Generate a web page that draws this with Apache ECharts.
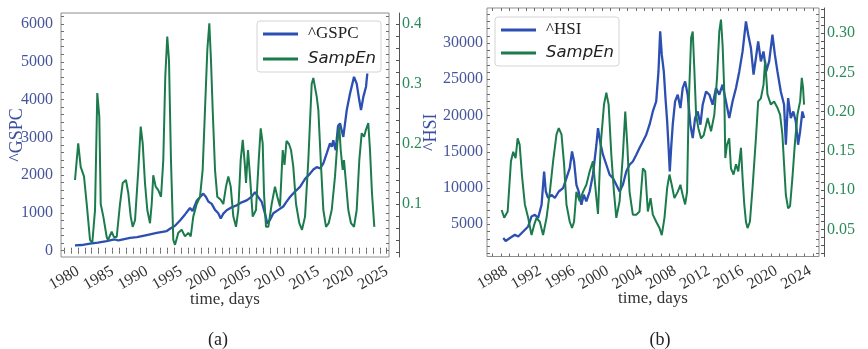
<!DOCTYPE html>
<html>
<head>
<meta charset="utf-8">
<script src="https://cdn.jsdelivr.net/npm/echarts@6/dist/echarts.min.js"></script>
<style>
  html, body { margin: 0; padding: 0; background: #fff; }
  #wrap { position: relative; width: 868px; height: 349px; overflow: hidden; background: #fff; }
  #chartA { position: absolute; left: 0; top: 0; width: 421px; height: 349px; }
  #chartB { position: absolute; left: 420px; top: 0; width: 448px; height: 349px; }
</style>
</head>
<body>
<div id="wrap"><div id="chartA"></div><div id="chartB"></div></div>
<script>
// ---- Panel (a): S&P 500 index and its sample entropy ----
const gspcYears = [1981.56,1982.5,1983.75,1984.9,1986.18,1987.3,1987.9,1988.12,1989.58,1990.6,1992.01,1993.47,1994.93,1995.41,1996.14,1996.87,1997.6,1998.32,1998.7,1999.3,1999.8,2000.26,2000.66,2000.99,2001.49,2001.97,2002.45,2002.8,2003.18,2003.67,2004.4,2005.13,2005.86,2006.59,2007.32,2007.8,2008.28,2008.78,2009.26,2009.59,2009.99,2010.47,2011.2,2011.92,2012.4,2012.9,2013.6,2014.36,2015.1,2015.82,2016.3,2016.79,2017.3,2017.76,2018.3,2018.73,2019.0,2019.21,2019.56,2019.9,2020.19,2020.67,2021.17,2021.65,2022.23,2022.62,2023.0,2023.25,2023.59,2023.98,2024.17];
const gspcValues = [140,150,185,215,255,300,270,290,340,360,415,470,520,580,660,800,960,1130,1050,1320,1420,1510,1420,1300,1240,1080,990,850,980,1070,1150,1200,1280,1330,1430,1550,1420,1290,980,720,820,990,1080,1170,1300,1420,1560,1690,1900,2040,2150,2210,2180,2310,2600,2840,2750,2920,2660,3300,3370,3010,3720,4160,4600,4420,3980,3720,4070,4340,4690];

const gspcEnYears = [1981.56,1982.03,1982.39,1982.87,1983.27,1983.75,1984.08,1984.48,1984.81,1985.10,1985.31,1985.69,1986.18,1986.37,1986.91,1987.24,1987.64,1988.12,1988.51,1988.99,1989.33,1989.68,1989.97,1990.31,1990.79,1991.14,1991.43,1991.76,1992.10,1992.49,1992.74,1992.97,1993.32,1993.70,1994.10,1994.43,1994.72,1995.01,1995.26,1995.55,1995.89,1996.14,1996.62,1997.11,1997.59,1998.08,1998.43,1998.80,1999.30,1999.78,2000.17,2000.51,2000.85,2001.14,2001.38,2001.63,2001.97,2002.30,2002.80,2003.18,2003.57,2003.91,2004.26,2004.64,2005.03,2005.36,2005.71,2006.01,2006.30,2006.49,2006.78,2007.07,2007.46,2007.94,2008.34,2008.63,2008.92,2009.11,2009.40,2009.74,2010.23,2010.71,2011.05,2011.44,2011.84,2012.10,2012.39,2012.75,2013.05,2013.38,2013.78,2014.26,2014.65,2015.09,2015.57,2016.06,2016.30,2016.79,2017.03,2017.38,2017.76,2018.15,2018.54,2018.98,2019.46,2019.80,2020.09,2020.29,2020.58,2020.77,2021.06,2021.40,2021.79,2022.23,2022.62,2023.00,2023.35,2023.69,2023.98,2024.31,2024.56,2024.85,2025.19];
const gspcEnValues = [0.14,0.201,0.162,0.146,0.10,0.04,0.035,0.09,0.285,0.246,0.10,0.079,0.045,0.04,0.054,0.045,0.045,0.10,0.135,0.14,0.118,0.079,0.062,0.073,0.157,0.229,0.201,0.135,0.09,0.068,0.10,0.148,0.129,0.123,0.112,0.173,0.312,0.379,0.34,0.173,0.04,0.032,0.052,0.057,0.046,0.052,0.046,0.079,0.10,0.112,0.157,0.257,0.357,0.401,0.34,0.257,0.157,0.112,0.107,0.10,0.129,0.146,0.129,0.079,0.062,0.09,0.173,0.207,0.168,0.135,0.19,0.146,0.079,0.09,0.173,0.226,0.201,0.118,0.062,0.062,0.10,0.129,0.112,0.096,0.19,0.165,0.205,0.20,0.19,0.162,0.10,0.068,0.057,0.079,0.173,0.30,0.31,0.279,0.257,0.173,0.09,0.062,0.068,0.09,0.146,0.201,0.229,0.19,0.157,0.173,0.135,0.09,0.068,0.062,0.09,0.173,0.218,0.212,0.224,0.235,0.19,0.118,0.062];

const gspcYearTicks = [1980,1985,1990,1995,2000,2005,2010,2015,2020,2025];
const gspcLevelTicks = [0,1000,2000,3000,4000,5000,6000];
const gspcEnTicks = [0.1,0.2,0.3,0.4];

// ---- Panel (b): Hang Seng index and its sample entropy ----
const hsiYears = [1989.28,1989.56,1990.07,1990.66,1991.05,1991.64,1992.23,1992.63,1993.02,1993.41,1993.82,1994.12,1994.32,1994.6,1995.0,1995.39,1995.86,1996.37,1996.77,1997.16,1997.43,1997.67,1997.95,1998.22,1998.54,1998.82,1999.13,1999.52,1999.91,2000.32,2000.51,2000.83,2001.1,2001.5,2001.89,2002.28,2002.68,2003.07,2003.46,2003.86,2004.25,2004.64,2005.05,2005.43,2005.83,2006.23,2006.62,2007.01,2007.41,2007.68,2007.88,2008.07,2008.31,2008.51,2008.71,2008.86,2009.02,2009.18,2009.37,2009.65,2009.96,2010.28,2010.55,2010.84,2011.14,2011.46,2011.74,2012.02,2012.33,2012.65,2012.92,2013.32,2013.71,2014.1,2014.5,2014.89,2015.28,2015.68,2016.07,2016.46,2016.87,2017.26,2017.65,2018.05,2018.32,2018.64,2018.95,2019.23,2019.5,2019.82,2020.13,2020.45,2020.8,2021.19,2021.48,2021.78,2022.18,2022.57,2022.78,2023.05,2023.37,2023.67,2023.96,2024.23,2024.47,2024.74,2024.94];
const hsiValues = [3100,2700,3100,3550,3320,4000,4700,6080,6310,5860,7690,12280,9520,8620,9070,8620,9520,9990,11370,12750,15040,13660,10450,9520,7690,9070,8150,9520,11830,15970,18270,15970,14590,13210,11830,11370,10450,9520,10450,12280,13210,13660,14590,15510,16420,17350,18730,20560,21940,26080,31600,28390,26080,22410,19180,15970,12280,15510,18730,21940,22870,21030,23790,24700,22870,18730,16890,19650,20560,18730,21490,23320,22870,21490,23790,22870,24250,21940,19650,21940,23790,26080,28840,32980,31140,29310,25630,27930,30220,27460,28840,26080,27460,31140,28390,26080,23320,21490,15970,22410,19650,20560,19180,15970,17800,20560,19650];

const hsiEnYears = [1989.09,1989.39,1989.8,1990.19,1990.46,1990.74,1990.98,1991.22,1991.52,1991.84,1992.23,1992.63,1992.94,1993.22,1993.61,1994.0,1994.41,1994.8,1995.19,1995.59,1995.86,1996.18,1996.49,1996.77,1997.16,1997.43,1997.67,1997.95,1998.34,1998.73,1999.13,1999.52,1999.91,2000.32,2000.51,2000.83,2001.22,2001.5,2001.77,2002.09,2002.4,2002.68,2003.07,2003.46,2003.74,2003.98,2004.25,2004.64,2005.05,2005.43,2005.83,2006.11,2006.42,2006.74,2007.01,2007.41,2007.8,2008.07,2008.39,2008.71,2008.98,2009.25,2009.57,2009.96,2010.28,2010.55,2010.84,2011.07,2011.26,2011.55,2011.74,2011.94,2012.14,2012.41,2012.73,2013.04,2013.32,2013.51,2013.91,2014.3,2014.62,2014.89,2015.09,2015.28,2015.48,2015.6,2015.8,2016.07,2016.27,2016.58,2016.87,2017.14,2017.46,2017.65,2017.85,2018.05,2018.24,2018.52,2018.83,2019.23,2019.5,2019.82,2020.13,2020.33,2020.6,2021.0,2021.39,2021.78,2022.1,2022.37,2022.57,2022.78,2023.05,2023.28,2023.56,2023.84,2024.15,2024.47,2024.67,2024.82,2024.94];
const hsiEnValues = [0.075,0.065,0.073,0.137,0.149,0.141,0.166,0.158,0.116,0.082,0.065,0.043,0.056,0.065,0.06,0.043,0.065,0.098,0.137,0.171,0.179,0.171,0.133,0.082,0.06,0.052,0.06,0.098,0.086,0.098,0.107,0.124,0.137,0.09,0.07,0.158,0.209,0.224,0.209,0.145,0.098,0.065,0.086,0.145,0.2,0.158,0.098,0.069,0.069,0.073,0.128,0.124,0.073,0.09,0.069,0.06,0.052,0.043,0.065,0.103,0.12,0.107,0.09,0.098,0.107,0.094,0.082,0.098,0.209,0.294,0.302,0.251,0.196,0.179,0.166,0.17,0.183,0.192,0.175,0.196,0.243,0.302,0.317,0.285,0.226,0.141,0.158,0.166,0.128,0.12,0.133,0.124,0.154,0.116,0.082,0.06,0.052,0.06,0.103,0.166,0.213,0.217,0.234,0.265,0.222,0.209,0.213,0.205,0.196,0.171,0.133,0.094,0.077,0.08,0.116,0.158,0.196,0.213,0.243,0.23,0.209];

const hsiYearTicks = [1988,1992,1996,2000,2004,2008,2012,2016,2020,2024];
const hsiLevelTicks = [5000,10000,15000,20000,25000,30000];
const hsiEnTicks = [0.05,0.10,0.15,0.20,0.25,0.30];

// ---- shared styling ----
const SERIF = '"Liberation Serif", "DejaVu Serif", serif';
const SANS = '"DejaVu Sans", sans-serif';
const BLUE = '#2c4fb2';
const GREEN = '#1c7b4c';
const FRAME = '#8e8e8e';
const TICK = '#6e6e6e';

function steps(from, to, step) {
  const out = [];
  const n = Math.round((to - from) / step);
  for (let i = 0; i <= n; i++) out.push(+(from + i * step).toFixed(4));
  return out;
}
function pairs(xs, ys) { return xs.map((x, i) => [x, ys[i]]); }

function panel(cfg) {
  const innerTick = (vals) => ({ show: true, inside: true, length: 3, customValues: vals, lineStyle: { color: TICK, width: 1 } });
  return {
    animation: false,
    grid: { left: cfg.grid.left, top: cfg.grid.top, width: cfg.grid.width, height: cfg.grid.height,
            show: true, borderColor: FRAME, borderWidth: 1, backgroundColor: 'transparent',
            containLabel: false, outerBoundsMode: 'none' },
    xAxis: [
      { type: 'value', min: cfg.xMin, max: cfg.xMax, position: 'bottom',
        axisLine: { show: false }, splitLine: { show: false },
        axisTick: innerTick(steps(Math.ceil(cfg.xMin), Math.floor(cfg.xMax), 1)),
        axisLabel: { customValues: cfg.yearTicks, rotate: 30, align: 'center', verticalAlign: 'middle',
                     margin: 21, fontFamily: SERIF, fontSize: 16, color: '#333',
                     formatter: (v) => String(Math.round(v)) },
        name: 'time, days', nameLocation: 'middle', nameGap: 34, nameMoveOverlap: false,
        nameTextStyle: { fontFamily: SERIF, fontSize: 17, color: '#333' } },
      { type: 'value', min: cfg.xMin, max: cfg.xMax, position: 'top',
        axisLine: { show: false }, splitLine: { show: false }, axisLabel: { show: false },
        axisTick: innerTick(steps(Math.ceil(cfg.xMin), Math.floor(cfg.xMax), 1)) }
    ],
    yAxis: [
      { type: 'value', min: cfg.levelMin, max: cfg.levelMax, position: 'left',
        axisLine: { show: false }, splitLine: { show: false },
        axisTick: innerTick(cfg.levelMinor),
        axisLabel: { customValues: cfg.levelTicks, margin: cfg.levelMargin, fontFamily: SERIF, fontSize: 16, color: '#45559c',
                     formatter: (v) => String(Math.round(v)) },
        name: cfg.levelName, nameLocation: 'middle', nameGap: cfg.levelNameGap, nameRotate: 90, nameMoveOverlap: false,
        nameTextStyle: { fontFamily: SERIF, fontSize: 18, color: '#3b4fa0' } },
      { type: 'value', min: cfg.enMin, max: cfg.enMax, position: 'right', offset: cfg.enOffset,
        axisLine: { show: true, lineStyle: { color: '#555', width: 1 } }, splitLine: { show: false },
        axisTick: { show: true, inside: true, length: 3, customValues: cfg.enMinor, lineStyle: { color: '#555' } },
        axisLabel: { customValues: cfg.enTicks, margin: 3, fontFamily: SERIF, fontSize: 16, color: '#2b8a5a',
                     formatter: (v) => v.toFixed(cfg.enDigits) } },
      { type: 'value', min: cfg.levelMin, max: cfg.levelMax, position: 'right', offset: 0,
        axisLine: { show: false }, splitLine: { show: false }, axisLabel: { show: false },
        axisTick: innerTick(cfg.levelMinor) }
    ],
    legend: {
      orient: 'vertical', left: cfg.legend.left, top: cfg.legend.top,
      backgroundColor: '#ffffff', borderColor: '#d4d4d4', borderWidth: 1, borderRadius: 3,
      padding: [3, 5, 3, 6], itemWidth: 35, itemHeight: 3, itemGap: cfg.legend.gap, icon: 'rect',
      textStyle: { fontSize: 17, lineHeight: 20, color: '#222', padding: [0, 0, 0, 5] },
      data: [
        { name: cfg.levelName, textStyle: { fontFamily: SERIF, fontSize: 17 } },
        { name: 'SampEn', textStyle: { fontFamily: SANS, fontStyle: 'italic', fontSize: 16.5 } }
      ]
    },
    graphic: [
      { type: 'text', x: cfg.caption.x, y: 340,
        style: { text: cfg.caption.text, font: '18px ' + SERIF, fill: '#222', align: 'center', verticalAlign: 'middle' } }
    ],
    series: [
      { name: cfg.levelName, type: 'line', xAxisIndex: 0, yAxisIndex: 0, showSymbol: false, clip: true,
        data: pairs(cfg.levelYears, cfg.levelValues), lineStyle: { color: BLUE, width: 2.3 }, itemStyle: { color: BLUE }, z: 2 },
      { name: 'SampEn', type: 'line', xAxisIndex: 0, yAxisIndex: 1, showSymbol: false, clip: true,
        data: pairs(cfg.enYears, cfg.enValues), lineStyle: { color: GREEN, width: 2 }, itemStyle: { color: GREEN }, z: 3 }
    ]
  };
}

const chartA = echarts.init(document.getElementById('chartA'), null, { renderer: 'canvas' });
chartA.setOption(panel({
  grid: { left: 61, top: 13, width: 328, height: 244 },
  xMin: 1979.52, xMax: 2027.33, yearTicks: gspcYearTicks,
  levelMin: -167, levelMax: 6291, levelTicks: gspcLevelTicks, levelMinor: steps(0, 6200, 200),
  levelMargin: 8, levelName: '^GSPC', levelNameGap: 35,
  levelYears: gspcYears, levelValues: gspcValues,
  enMin: 0.0117, enMax: 0.4183, enTicks: gspcEnTicks, enMinor: steps(0.02, 0.40, 0.02), enDigits: 1, enOffset: 10,
  enYears: gspcEnYears, enValues: gspcEnValues,
  legend: { left: 257, top: 21, gap: 5 },
  caption: { text: '(a)', x: 218 }
}));

const chartB = echarts.init(document.getElementById('chartB'), null, { renderer: 'canvas' });
chartB.setOption(panel({
  grid: { left: 67, top: 8, width: 332, height: 248.5 },
  xMin: 1987.35, xMax: 2026.71, yearTicks: hsiYearTicks,
  levelMin: 555, levelMax: 34829, levelTicks: hsiLevelTicks, levelMinor: steps(1000, 34000, 1000),
  levelMargin: 4, levelName: '^HSI', levelNameGap: 47,
  levelYears: hsiYears, levelValues: hsiValues,
  enMin: 0.0158, enMax: 0.3318, enTicks: hsiEnTicks, enMinor: steps(0.02, 0.33, 0.01), enDigits: 2, enOffset: 5,
  enYears: hsiEnYears, enValues: hsiEnValues,
  legend: { left: 75, top: 17, gap: 3 },
  caption: { text: '(b)', x: 240 }
}));
</script>
</body>
</html>
